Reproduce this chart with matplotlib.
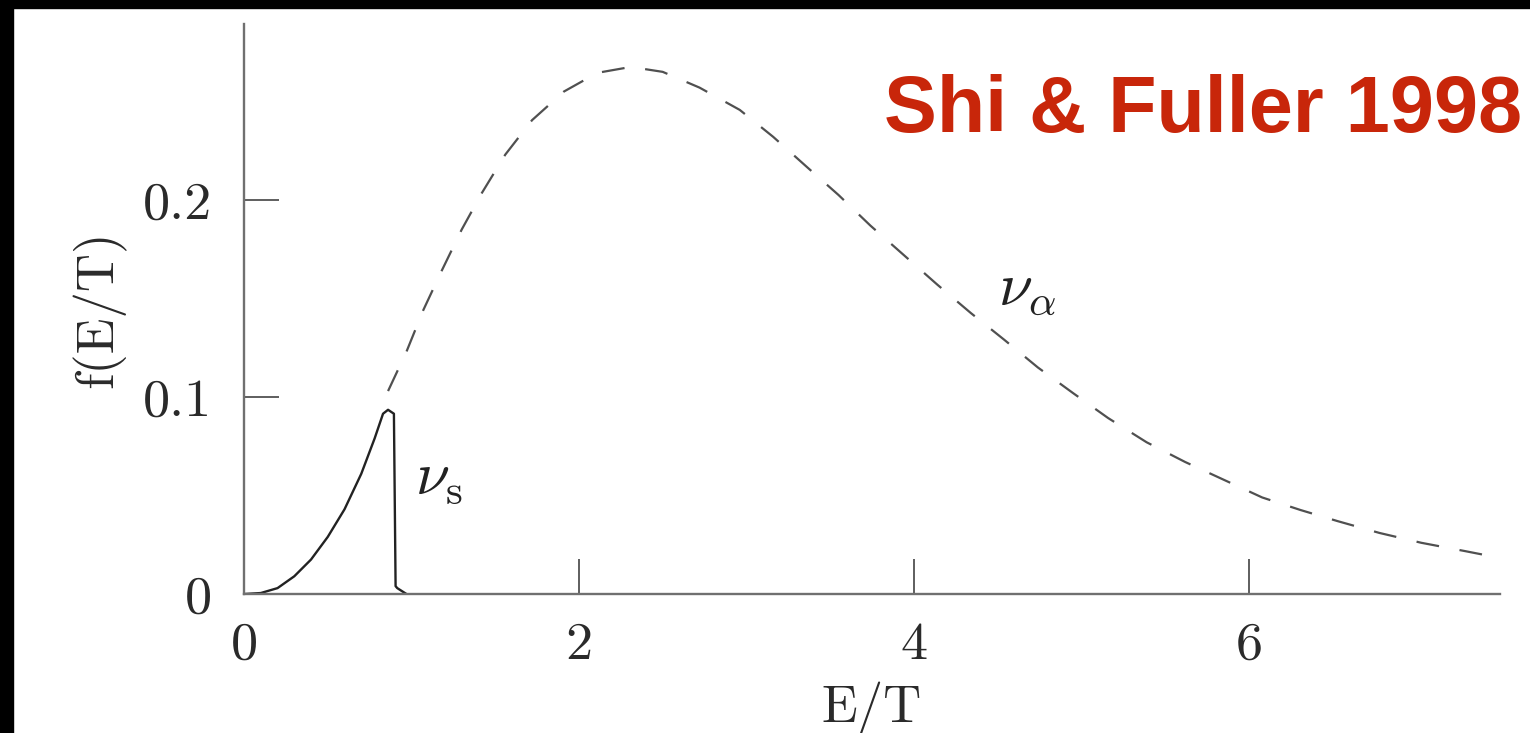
import matplotlib
matplotlib.use('Agg')
import matplotlib.pyplot as plt
from matplotlib.patches import Rectangle

# active neutrino spectrum (dashed)
x_alpha = [0.86, 0.97, 1.07, 1.18, 1.30, 1.42, 1.56, 1.72, 1.91, 2.11, 2.31, 2.50,
           2.72, 2.96, 3.16, 3.36, 3.55, 3.74, 3.94, 4.14, 4.34, 4.54, 4.74, 4.95,
           5.16, 5.39, 5.62, 5.85, 6.08, 6.31, 6.53, 6.78, 7.03, 7.29, 7.50]
f_alpha = [0.103, 0.123, 0.144, 0.164, 0.185, 0.2035, 0.223, 0.2405, 0.255, 0.2645,
           0.2675, 0.265, 0.257, 0.2457, 0.232, 0.2168, 0.2025, 0.187, 0.172, 0.157,
           0.1426, 0.129, 0.115, 0.102, 0.0893, 0.077, 0.067, 0.058, 0.049, 0.0426,
           0.037, 0.031, 0.026, 0.0218, 0.0183]

# sterile neutrino spectrum (solid)
x_s = [0.0, 0.1, 0.2, 0.3, 0.4, 0.5, 0.6, 0.7, 0.78, 0.83, 0.86, 0.895, 0.905, 0.915, 0.97]
f_s = [0.0, 0.0005, 0.003, 0.009, 0.0175, 0.029, 0.043, 0.061, 0.079, 0.0915, 0.0935,
       0.0915, 0.004, 0.003, 0.0]

xticks = [0, 2, 4, 6]
yticks = [0, 0.1, 0.2]
ytick_labels = ['0', '0.1', '0.2']

plt.rcParams['font.family'] = 'cmr10'
plt.rcParams['mathtext.fontset'] = 'cm'
plt.rcParams['axes.formatter.use_mathtext'] = True
plt.rcParams['lines.scale_dashes'] = False

fig = plt.figure(figsize=(15.3, 7.33), dpi=100)
ax = fig.add_axes([0.1595, 0.1896, 0.8209, 0.7777])

ax.plot(x_alpha, f_alpha, color='#505050', lw=1.6, dashes=(16.5, 15))
ax.plot(x_s, f_s, color='#222222', lw=1.7)

ax.set_xlim(0, 7.5)
ax.set_ylim(0, 0.2893)
ax.set_xticks(xticks)
ax.set_xticklabels([str(t) for t in xticks])
ax.set_yticks(yticks)
ax.set_yticklabels(ytick_labels)

for side in ['top', 'right']:
    ax.spines[side].set_visible(False)
for side in ['left', 'bottom']:
    ax.spines[side].set_color('#707070')
    ax.spines[side].set_linewidth(1.7)

ax.tick_params(direction='in', length=25, width=1.1, color='#333333',
               labelsize=39, labelcolor='#2a2a2a')
ax.tick_params(axis='x', pad=20)
ax.tick_params(axis='y', pad=23)

ax.set_xlabel('E/T', fontsize=38, color='#2a2a2a', labelpad=9)
ax.set_ylabel('f(E/T)', fontsize=38, color='#2a2a2a', labelpad=12)

ax.text(4.5, 0.147, r'$\nu_\alpha$', fontsize=44, color='#222222')
ax.text(1.02, 0.051, r'$\nu_{\rm s}$', fontsize=44, color='#222222')

fig.text(0.9948, 0.82, 'Shi & Fuller 1998', ha='right', va='baseline',
         fontsize=57, fontweight='bold', color='#c8260a', family='Liberation Sans')

# dark frame along the top and left edges
fig.patches.append(Rectangle((0, 1 - 8 / 733), 1, 8 / 733, transform=fig.transFigure,
                             color='black', zorder=10))
fig.patches.append(Rectangle((0, 0), 13 / 1530, 1, transform=fig.transFigure,
                             color='black', zorder=10))

fig.savefig('out.png', dpi=100)
